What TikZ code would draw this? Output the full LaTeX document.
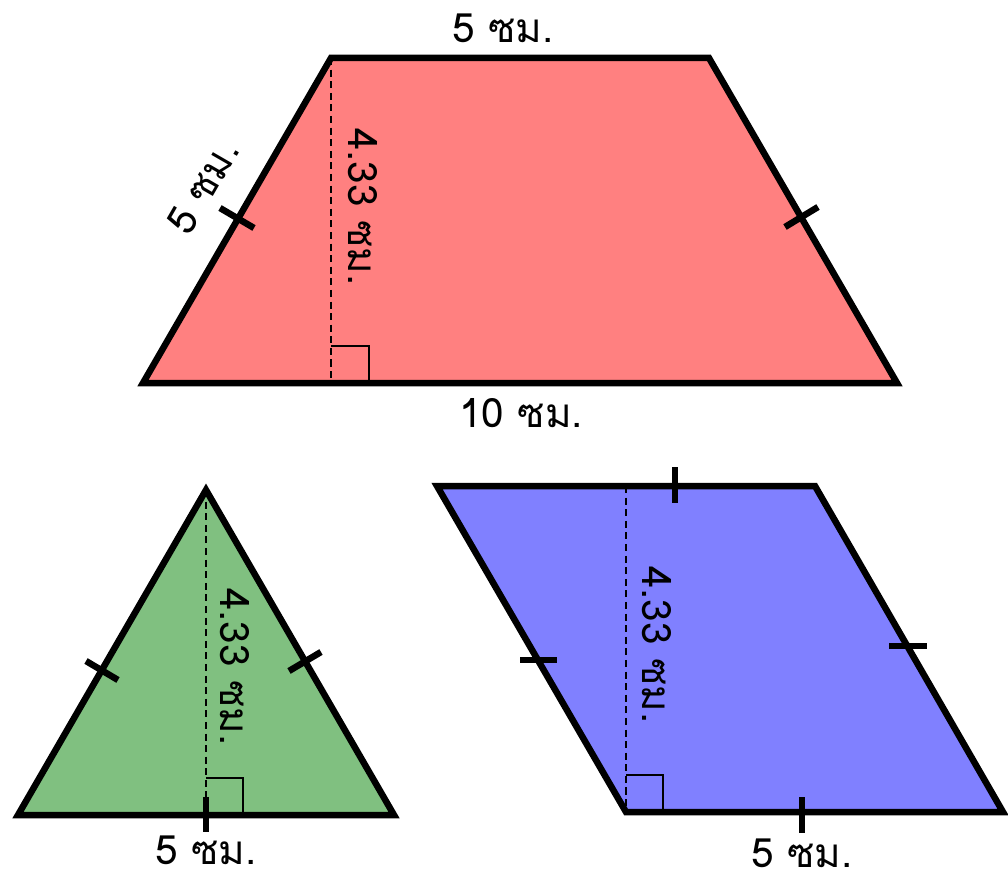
\documentclass[tikz,border=0pt]{standalone}
\usepackage{fontspec}
\newfontfamily\thaifont[Script=Thai]{Loma}
\definecolor{trapred}{HTML}{FF8080}
\definecolor{trigreen}{HTML}{80C080}
\definecolor{parblue}{HTML}{8080FF}
\begin{document}
\begin{tikzpicture}[x=0.02cm, y=-0.02cm,
  figure/.style={draw, line width=3.7pt, fill=#1},
  tickmark/.style={line width=3.7pt},
  height/.style={line width=1pt, dash pattern=on 4pt off 2.6pt},
  rightangle/.style={line width=1.1pt},
  lbl/.style={font=\thaifont\fontsize{23}{27}\selectfont, inner sep=0pt}
]
  \useasboundingbox (0,0) rectangle (1008,875);
  % trapezoid
  \coordinate (tA) at (143,383);
  \coordinate (tB) at (897,383);
  \coordinate (tC) at (709,58);
  \coordinate (tD) at (331,58);
  \coordinate (tH) at (331,383);
  \draw[figure=trapred] (tA) -- (tB) -- (tC) -- (tD) -- cycle;
  \draw[height] (tD) -- (tH);
  \draw[rightangle] (331,346) -- (369,346) -- (369,383);
  \draw[tickmark] (220,208) -- (254,228);
  \draw[tickmark] (785,227) -- (818,207);
  \node[lbl] (ttop) at (503,28) {5 ซม.};
  \node[lbl] (tbot) at (521,413) {10 ซม.};
  \node[lbl, rotate=60] (tside) at (203,187) {5 ซม.};
  \node[lbl, rotate=-90] (thgt) at (363,207) {4.33 ซม.};
  % triangle
  \coordinate (gA) at (18,815);
  \coordinate (gB) at (394,815);
  \coordinate (gC) at (206,490);
  \coordinate (gH) at (206,815);
  \draw[figure=trigreen] (gA) -- (gB) -- (gC) -- cycle;
  \draw[height] (gC) -- (gH);
  \draw[rightangle] (206,778) -- (243,778) -- (243,815);
  \draw[tickmark] (206,797) -- (206,832);
  \draw[tickmark] (86,661) -- (118,680);
  \draw[tickmark] (289,671) -- (321,652);
  \node[lbl] (gbot) at (206,850) {5 ซม.};
  \node[lbl, rotate=-90] (ghgt) at (235,667) {4.33 ซม.};
  % parallelogram
  \coordinate (pA) at (626,812);
  \coordinate (pB) at (1003,812);
  \coordinate (pC) at (815,486);
  \coordinate (pD) at (437,486);
  \coordinate (pH) at (626,486);
  \draw[figure=parblue] (pA) -- (pB) -- (pC) -- (pD) -- cycle;
  \draw[height] (pH) -- (pA);
  \draw[rightangle] (626,775) -- (663,775) -- (663,812);
  \draw[tickmark] (675,467) -- (675,503);
  \draw[tickmark] (802,797) -- (802,833);
  \draw[tickmark] (520,660) -- (557,660);
  \draw[tickmark] (889,646) -- (927,646);
  \node[lbl] (pbot) at (802,853) {5 ซม.};
  \node[lbl, rotate=-90] (phgt) at (657,645) {4.33 ซม.};
\end{tikzpicture}
\end{document}
